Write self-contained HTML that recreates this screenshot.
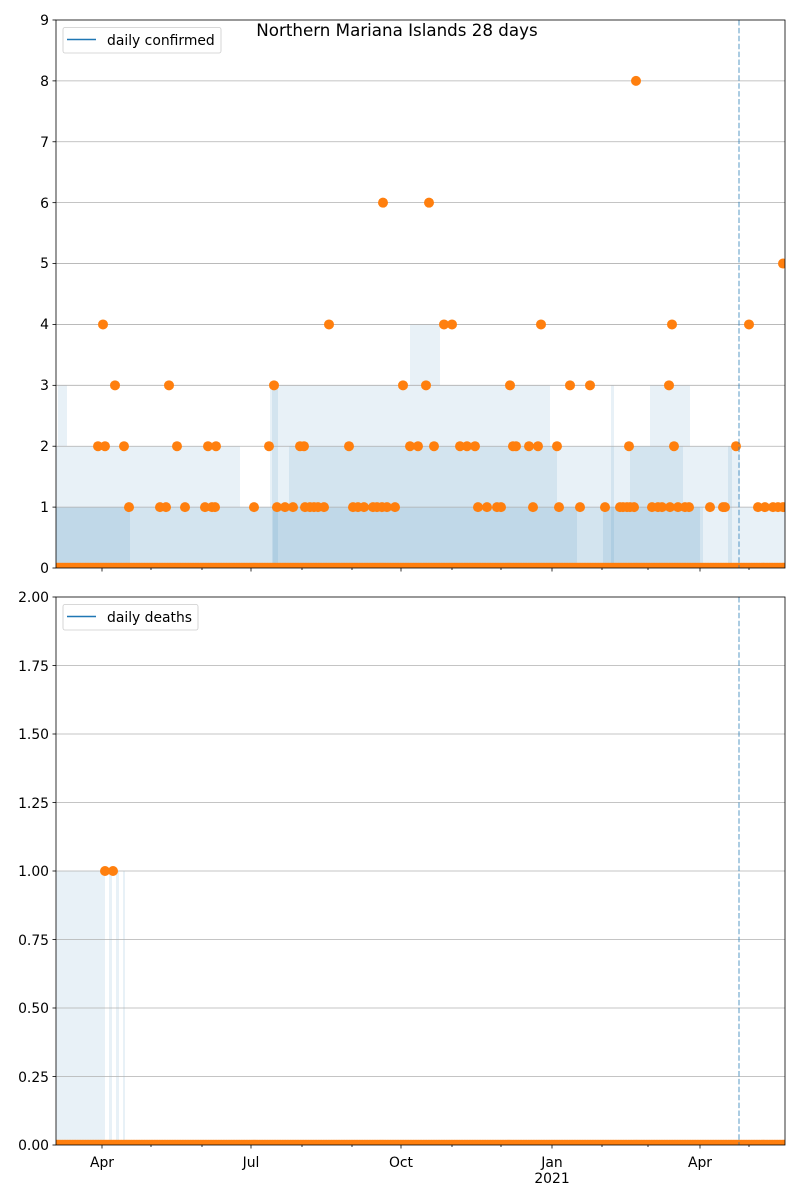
<!DOCTYPE html>
<html><head><meta charset="utf-8"><style>
body{margin:0;background:#fff}
svg{display:block;font-family:"DejaVu Sans","Liberation Sans",sans-serif}
</style></head><body>
<svg id="s" width="800" height="1200" viewBox="0 0 800 1200" xmlns="http://www.w3.org/2000/svg">
<defs>
<clipPath id="c1"><rect x="56" y="20" width="729" height="548"/></clipPath>
<clipPath id="c2"><rect x="56" y="597" width="729" height="548"/></clipPath>
</defs>
<rect width="800" height="1200" fill="#fff"/>
<g clip-path="url(#c1)" fill="#1f77b4" fill-opacity="0.1" id="f1"></g>
<g id="g1" stroke="#b0b0b0" stroke-width="0.8"></g>
<g clip-path="url(#c1)" id="d1" fill="#ff7f0e"></g>
<line x1="739" y1="20" x2="739" y2="568" stroke="#1f77b4" stroke-opacity="0.5" stroke-width="1.5" stroke-dasharray="5.5,2.4"/>
<rect x="56" y="20" width="729" height="548" fill="none" stroke="#000" stroke-width="0.8"/>
<g font-size="13.9" fill="#000" text-anchor="end">
<text x="49" y="573">0</text><text x="49" y="512">1</text><text x="49" y="451">2</text><text x="49" y="390">3</text><text x="49" y="329">4</text><text x="49" y="268">5</text><text x="49" y="208">6</text><text x="49" y="147">7</text><text x="49" y="86">8</text><text x="49" y="25">9</text>
</g>
<rect x="63" y="27.5" width="158" height="25.5" rx="2" fill="#fff" fill-opacity="0.8" stroke="#ccc" stroke-width="0.8"/>
<line x1="67" y1="39.5" x2="96" y2="39.5" stroke="#1f77b4" stroke-width="1.5"/>
<text x="107" y="45" font-size="13.9">daily confirmed</text>
<text x="397" y="36" font-size="16.7" text-anchor="middle">Northern Mariana Islands 28 days</text>

<g clip-path="url(#c2)" fill="#1f77b4" fill-opacity="0.1">
<rect x="56" y="871" width="49" height="274"/>
<rect x="109" y="871" width="3" height="274"/>
<rect x="116" y="871" width="3" height="274"/>
<rect x="123" y="871" width="2" height="274"/>
</g>
<g id="g2" stroke="#b0b0b0" stroke-width="0.8"></g>
<g clip-path="url(#c2)" id="d2" fill="#ff7f0e"></g>
<line x1="739" y1="597" x2="739" y2="1145" stroke="#1f77b4" stroke-opacity="0.5" stroke-width="1.5" stroke-dasharray="5.5,2.4"/>
<rect x="56" y="597" width="729" height="548" fill="none" stroke="#000" stroke-width="0.8"/>
<g font-size="13.9" fill="#000" text-anchor="end">
<text x="49" y="1150">0.00</text><text x="49" y="1082">0.25</text><text x="49" y="1013">0.50</text><text x="49" y="945">0.75</text><text x="49" y="876">1.00</text><text x="49" y="808">1.25</text><text x="49" y="739">1.50</text><text x="49" y="671">1.75</text><text x="49" y="602">2.00</text>
</g>
<rect x="63" y="604.5" width="135" height="25.5" rx="2" fill="#fff" fill-opacity="0.8" stroke="#ccc" stroke-width="0.8"/>
<line x1="67" y1="616.5" x2="96" y2="616.5" stroke="#1f77b4" stroke-width="1.5"/>
<text x="107" y="622" font-size="13.9">daily deaths</text>
<g font-size="13.9" text-anchor="middle">
<text x="102" y="1167">Apr</text><text x="251" y="1167">Jul</text><text x="401" y="1167">Oct</text><text x="552" y="1167">Jan</text><text x="552" y="1183">2021</text><text x="700" y="1167">Apr</text>
</g>
<g id="tk" stroke="#000" stroke-width="0.8"></g>
</svg>
<script>
var NS="http://www.w3.org/2000/svg";
function el(p,t,a){var e=document.createElementNS(NS,t);for(var k in a)e.setAttribute(k,a[k]);document.getElementById(p).appendChild(e);return e;}
var U=60.89,B=568;
function band(x1,x2,v){el("f1","rect",{x:x1,y:B-U*v,width:x2-x1,height:U*v});}
[[56,130,1],[273,577,1],[603,700,1]].forEach(function(a){band(a[0],a[1],a[2]);});
[[56,289,1],[289,557,2],[557,630,1],[630,683,2],[683,703,1]].forEach(function(a){band(a[0],a[1],a[2]);});
[[56,58,2],[58,67,3],[67,230,2],[230,240,2],[240,270,1],[270,410,3],[410,440,4],[440,550,3],[550,650,2],[650,690,3],[690,740,2],[740,785,1],[728,732,2],[611,614,3],[272,278,3]].forEach(function(a){band(a[0],a[1],a[2]);});
for(var i=1;i<9;i++){var y=B-U*i;el("g1","line",{x1:56,x2:785,y1:y,y2:y});}
for(var i=1;i<8;i++){var y=1145-68.5*i;el("g2","line",{x1:56,x2:785,y1:y,y2:y});}
for(var x=56;x<=786;x+=1.64){el("d1","circle",{cx:x,cy:568,r:5.2});el("d2","circle",{cx:x,cy:1145,r:5.2});}
var pts={8:[636],6:[383,429],5:[783],4:[103,329,444,452,541,672,749],3:[115,169,274,403,426,510,570,590,669],
2:[98,105,124,177,208,216,269,300,304,349,410,418,434,460,467,475,513,516,529,538,557,629,674,736],
1:[129,160,166,185,205,212,215,254,277,285,293,305,310,314,318,324,353,358,364,373,377,382,387,395,478,487,497,501,533,559,580,605,620,623,627,630,634,652,658,662,670,678,685,689,710,723,725,758,765,773,778,783]};
for(var v in pts)pts[v].forEach(function(x){el("d1","circle",{cx:x,cy:B-U*v,r:5});});
[105,113].forEach(function(x){el("d2","circle",{cx:x,cy:871,r:5});});
var maj=[102,251,401,552,700],mn=[151,202,302,352,452,501,602,648,749];
[568,1145].forEach(function(y){
 maj.forEach(function(x){el("tk","line",{x1:x,x2:x,y1:y,y2:y+3.5});});
 mn.forEach(function(x){el("tk","line",{x1:x,x2:x,y1:y,y2:y+2});});
});
for(var i=0;i<10;i++){var y=B-U*i;el("tk","line",{x1:52.5,x2:56,y1:y,y2:y});}
for(var i=0;i<9;i++){var y=1145-68.5*i;el("tk","line",{x1:52.5,x2:56,y1:y,y2:y});}
</script>
</body></html>
